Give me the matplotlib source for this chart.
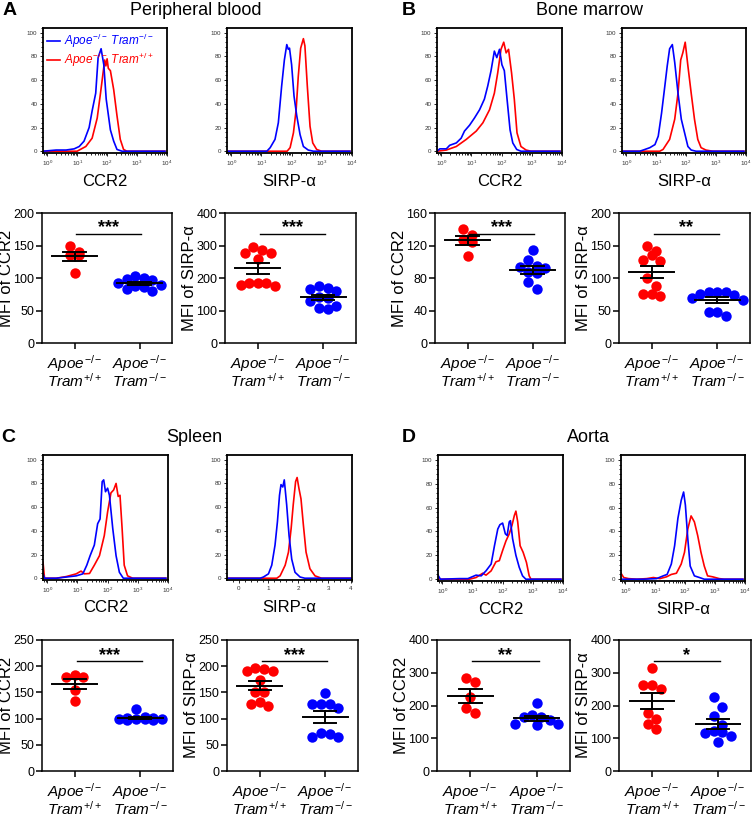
import numpy as np
import matplotlib
matplotlib.use('Agg')
import matplotlib.pyplot as plt
from matplotlib.ticker import MultipleLocator, FixedLocator

plt.rcParams['font.family'] = ['Liberation Sans', 'DejaVu Sans']
plt.rcParams['mathtext.fontset'] = 'custom'
plt.rcParams['mathtext.rm'] = 'Liberation Sans'
plt.rcParams['mathtext.it'] = 'Liberation Sans:italic'
plt.rcParams['mathtext.bf'] = 'Liberation Sans:bold'

# ---- histogramas (x en log10, y en % del maximo) ----
# ko = Apoe-/- Tram-/- (azul), wt = Apoe-/- Tram+/+ (rojo)
a_ccr2_ko_x = [-0.14, 0.3, 0.63, 0.9, 1.07, 1.23, 1.4, 1.5, 1.62, 1.70, 1.80, 1.89, 1.97, 2.11, 2.22, 2.33, 2.5, 3.93]
a_ccr2_ko_y = [0, 1, 1, 2, 4, 8.5, 20, 34, 49, 79, 86.5, 73, 44, 18, 8.5, 1.5, 0, 0]
a_ccr2_wt_x = [-0.14, 1.0, 1.07, 1.29, 1.5, 1.67, 1.78, 1.86, 1.92, 1.96, 2.0, 2.04, 2.11, 2.22, 2.33, 2.44, 2.55, 2.66, 3.93]
a_ccr2_wt_y = [0, 0, 1, 4, 11, 28, 49, 65, 77, 72, 78, 70, 68, 52, 30, 10, 1.5, 0, 0]
a_sirp_ko_x = [-0.14, 1.18, 1.29, 1.45, 1.56, 1.67, 1.76, 1.84, 1.89, 1.93, 2.0, 2.08, 2.17, 2.28, 2.39, 2.55, 2.72, 3.93]
a_sirp_ko_y = [0, 0, 3, 10, 24, 55, 77, 90, 86, 87, 73, 46.5, 30, 14, 4, 1, 0, 0]
a_sirp_wt_x = [-0.14, 1.85, 1.95, 2.06, 2.15, 2.22, 2.3, 2.39, 2.44, 2.52, 2.61, 2.7, 2.83, 2.99, 3.93]
a_sirp_wt_y = [0, 0, 3, 15.5, 35, 63, 87, 95, 89, 55, 21, 7, 1.5, 0, 0]

b_ccr2_ko_x = [-0.14, -0.05, 0.17, 0.28, 0.5, 0.66, 0.77, 0.94, 1.1, 1.27, 1.43, 1.54, 1.65, 1.76, 1.84, 1.93, 2.01, 2.09, 2.18, 2.28, 2.37, 2.5, 2.64, 3.93]
b_ccr2_ko_y = [0, 2, 2, 5, 7, 11, 17, 22, 28, 35, 44, 55, 68, 84.5, 79, 86, 73, 68, 44, 18, 7, 1.5, 0, 0]
b_ccr2_wt_x = [-0.14, 0.17, 0.5, 0.83, 1.16, 1.38, 1.6, 1.76, 1.87, 1.98, 2.07, 2.15, 2.23, 2.33, 2.42, 2.51, 2.64, 2.81, 2.97, 3.93]
b_ccr2_wt_y = [0, 1, 4, 10, 17, 24, 35, 49, 66, 86, 92, 83, 86, 66, 44, 15.5, 4, 1, 0, 0]
b_sirp_ko_x = [-0.14, 0.45, 0.57, 0.79, 0.96, 1.07, 1.18, 1.29, 1.37, 1.45, 1.54, 1.62, 1.73, 1.84, 1.95, 2.06, 2.17, 2.33, 3.93]
b_sirp_ko_y = [0, 0, 1, 3, 5.6, 12.7, 32, 55, 72, 86.5, 90, 75, 49, 27, 15.5, 4, 1, 0, 0]
b_sirp_wt_x = [-0.14, 1.12, 1.23, 1.45, 1.62, 1.73, 1.82, 1.89, 1.97, 2.06, 2.17, 2.28, 2.39, 2.5, 2.66, 2.88, 3.93]
b_sirp_wt_y = [0, 0, 1.5, 10, 27, 49, 77, 83, 92, 72, 49, 27, 10, 3, 1, 0, 0]

c_ccr2_ko_x = [-0.14, -0.09, 0.3, 0.63, 0.96, 1.18, 1.31, 1.42, 1.56, 1.67, 1.75, 1.82, 1.87, 1.93, 2.0, 2.06, 2.17, 2.28, 2.39, 2.52, 3.93]
c_ccr2_ko_y = [4, 0, 0, 1, 2, 3.7, 11, 19, 28, 46, 50, 81.5, 83, 73, 76, 70, 42, 19, 5, 0, 0]
c_ccr2_wt_x = [-0.14, -0.09, 0.3, 0.63, 0.96, 1.12, 1.23, 1.4, 1.56, 1.73, 1.89, 2.0, 2.11, 2.2, 2.28, 2.35, 2.41, 2.48, 2.55, 2.66, 2.83, 3.93]
c_ccr2_wt_y = [13.6, 0, 0, 1.4, 3.7, 6, 3.7, 4, 11, 19, 36, 56, 72, 74.5, 80, 69, 70, 42, 11, 2, 0, 0]
# en C, SIRP-a va en escala lineal 0-4
c_sirp_ko_x = [-0.39, 0.72, 0.83, 1.0, 1.11, 1.22, 1.3, 1.37, 1.42, 1.48, 1.53, 1.61, 1.69, 1.78, 1.89, 2.06, 2.22, 3.8]
c_sirp_ko_y = [0, 0, 1, 3.7, 11, 28, 47.6, 70, 79, 77, 83, 62, 36, 16, 5, 1, 0, 0]
c_sirp_wt_x = [-0.39, 1.28, 1.39, 1.56, 1.67, 1.76, 1.83, 1.91, 1.96, 2.02, 2.09, 2.17, 2.26, 2.39, 2.56, 2.78, 3.8]
c_sirp_wt_y = [0, 0, 2, 11, 22, 42, 62, 81.6, 85, 76, 67, 45, 22, 8, 2, 0, 0]

d_ccr2_ko_x = [-0.14, -0.06, 0.57, 0.85, 0.99, 1.12, 1.29, 1.45, 1.62, 1.73, 1.84, 1.91, 2.0, 2.09, 2.15, 2.22, 2.26, 2.33, 2.44, 2.55, 2.66, 2.77, 3.93]
d_ccr2_ko_y = [3.4, 0, 0.5, 0.5, 2, 3.4, 2.8, 7, 12.7, 28, 42, 45.6, 47, 38, 36.6, 48, 49, 34, 20, 10, 2.8, 0, 0]
d_ccr2_wt_x = [-0.14, 0.9, 1.12, 1.34, 1.45, 1.62, 1.78, 1.89, 2.0, 2.11, 2.22, 2.31, 2.39, 2.44, 2.5, 2.58, 2.68, 2.79, 2.88, 2.94, 3.93]
d_ccr2_wt_y = [0, 0, 1.4, 5, 3.4, 7, 14.6, 15.5, 24, 32, 38, 45, 53.5, 57, 48, 28, 22.5, 14, 2.8, 0, 0]
d_sirp_ko_x = [-0.14, 0.61, 1.05, 1.27, 1.4, 1.54, 1.65, 1.76, 1.87, 1.95, 2.01, 2.09, 2.17, 2.31, 2.48, 2.64, 3.93]
d_sirp_ko_y = [0, 0, 0.5, 2.8, 4, 12.7, 28, 51, 66, 73, 62, 34, 11, 2.8, 1.4, 0, 0]
d_sirp_wt_x = [-0.14, -0.05, 0.11, 0.39, 0.72, 0.94, 1.16, 1.38, 1.54, 1.71, 1.87, 1.98, 2.09, 2.2, 2.31, 2.42, 2.53, 2.64, 2.75, 2.92, 3.14, 3.3, 3.93]
d_sirp_wt_y = [5, 1.4, 0.5, 0, 0.5, 1.4, 0.5, 2, 4, 5, 12.7, 22.5, 42, 53, 48, 36.6, 22.5, 11, 2.8, 2, 0.5, 0, 0]

# ---- MFI por raton ----
a_ccr2_wt = [140, 135, 135, 150, 107]
a_ccr2_ko = [103, 100, 99, 97, 93, 90, 88, 86, 83, 80]
a_sirp_wt = [296, 286, 277, 277, 260, 184, 184, 184, 178, 176]
a_sirp_ko = [176, 168, 165, 160, 143, 140, 128, 114, 107, 105]
b_ccr2_wt = [140, 133, 127, 124, 107]
b_ccr2_ko = [114, 102, 95, 94, 92, 88, 86, 75, 66]
b_sirp_wt = [150, 142, 135, 127, 126, 100, 87, 76, 75, 72]
b_sirp_ko = [78, 78, 78, 76, 74, 70, 66, 48, 47, 42]
c_ccr2_wt = [184, 180, 179, 154, 133]
c_ccr2_ko = [118, 104, 101, 101, 100, 100, 99, 99, 98, 97]
c_sirp_wt = [197, 195, 190, 190, 173, 151, 151, 131, 128, 125]
c_sirp_ko = [149, 127, 127, 127, 120, 72, 70, 65, 64]
d_ccr2_wt = [283, 273, 225, 191, 176]
d_ccr2_ko = [207, 171, 164, 164, 155, 145, 145, 140]
d_sirp_wt = [316, 263, 263, 250, 178, 158, 145, 127]
d_sirp_ko = [225, 196, 168, 140, 123, 120, 117, 107, 90]

grupos = [r'$\mathit{Apoe}^{-/-}$' + '\n' + r'$\mathit{Tram}^{+/+}$',
          r'$\mathit{Apoe}^{-/-}$' + '\n' + r'$\mathit{Tram}^{-/-}$']
leyenda = [r'$\mathit{Apoe}^{-/-}\ \mathit{Tram}^{-/-}$', r'$\mathit{Apoe}^{-/-}\ \mathit{Tram}^{+/+}$']

W, H = 752, 816
fig = plt.figure(figsize=(W / 100, H / 100), dpi=100)


def eje(izq, arriba, der, abajo):
    # ejes colocados en pixeles del dibujo original
    return fig.add_axes([izq / W, 1 - abajo / H, (der - izq) / W, (abajo - arriba) / H])


def histograma(rect, ko_x, ko_y, wt_x, wt_y, nombre, lineal=False):
    ax = eje(*rect)
    ax.plot(wt_x, wt_y, color='#ff0000', lw=1.2)
    ax.plot(ko_x, ko_y, color='#0000ff', lw=1.2)
    ax.set_ylim(-1.5, 104)
    ax.set_yticks([0, 20, 40, 60, 80, 100])
    ax.yaxis.set_minor_locator(MultipleLocator(4))
    if lineal:
        ax.set_xlim(-0.39, 3.8)
        ax.set_xticks([0, 1, 2, 3, 3.75], ['0', '1', '2', '3', '4'])
        ax.xaxis.set_minor_locator(MultipleLocator(0.2))
    else:
        ax.set_xlim(-0.14, 4.0)
        ax.set_xticks(range(5), [r'$10^{%d}$' % d for d in range(5)])
        menores = [d + np.log10(k) for d in range(-1, 4) for k in range(2, 10)]
        ax.xaxis.set_minor_locator(FixedLocator([m for m in menores if m > -0.14]))
    ax.tick_params(which='both', labelsize=4.5, labelcolor='#333333', width=0.6, pad=1.5)
    ax.tick_params(which='major', length=2.5)
    ax.tick_params(which='minor', length=1.5)
    for s in ax.spines.values():
        s.set_linewidth(1.3)
    ax.text(0.5, -0.224, nombre, transform=ax.transAxes, ha='center', va='center', fontsize=12)
    return ax


def enjambre(vals, ymax, paso=0.13, umbral=0.075):
    # acomoda los puntos en filas como el grafico de Prism
    vals = np.asarray(vals, dtype=float)
    orden = np.argsort(-vals, kind='stable')
    filas = []
    for i in orden:
        if filas and vals[filas[-1][0]] - vals[i] < umbral * ymax:
            filas[-1].append(i)
        else:
            filas.append([i])
    xs = np.zeros(len(vals))
    for f in filas:
        n = len(f)
        offs = (np.arange(n) - (n - 1) / 2) * paso
        offs = offs[np.argsort(np.abs(offs) + 1e-6 * offs, kind='stable')]
        for j, i in enumerate(f):
            xs[i] = offs[j]
    return xs


def puntos(rect, wt, ko, ymax, paso, estrellas, nombre):
    ax = eje(*rect)
    for i, (vals, color) in enumerate([(wt, '#ff0000'), (ko, '#0000ff')]):
        xs = enjambre(vals, ymax) + i
        ax.plot(xs, vals, 'o', color=color, ms=7.5, mew=0, zorder=2)
        m = np.mean(vals)
        sem = np.std(vals, ddof=1) / np.sqrt(len(vals))
        ax.plot([i - 0.34, i + 0.34], [m, m], color='k', lw=1.4, zorder=3)
        ax.plot([i - 0.17, i + 0.17], [m + sem, m + sem], color='k', lw=1.4, zorder=3)
        ax.plot([i - 0.17, i + 0.17], [m - sem, m - sem], color='k', lw=1.4, zorder=3)
        ax.plot([i, i], [m - sem, m + sem], color='k', lw=1.4, zorder=3)
    ax.plot([0.03, 1.03], [0.84 * ymax, 0.84 * ymax], color='k', lw=1.0)
    ax.text(0.53, 0.85 * ymax, estrellas, ha='center', va='baseline', fontsize=13, fontweight='bold')
    ax.set_xlim(-0.5, 1.5)
    ax.set_ylim(0, ymax)
    ax.set_yticks(np.arange(0, ymax + 1, paso))
    ax.set_xticks([0, 1], grupos)
    for t in ax.get_xticklabels():
        t.set_linespacing(0.85)
    ax.tick_params(axis='y', labelsize=9, length=4, width=1.1, pad=1.5)
    ax.tick_params(axis='x', labelsize=11, length=4, width=1.1, pad=3)
    for s in ax.spines.values():
        s.set_linewidth(1.1)
    ax.text(-0.27, 0.5, nombre, transform=ax.transAxes, rotation=90, ha='center', va='center', fontsize=12)
    return ax


# panel A
h = histograma((43, 28, 167, 153), a_ccr2_ko_x, a_ccr2_ko_y, a_ccr2_wt_x, a_ccr2_wt_y, 'CCR2')
lineas = h.get_lines()
h.legend([lineas[1], lineas[0]], leyenda, loc='upper left', fontsize=8.5, frameon=False,
         handlelength=1.1, handletextpad=0.3, labelspacing=0.05, borderaxespad=0.15, borderpad=0.2,
         labelcolor='linecolor')
histograma((227, 28, 352, 153), a_sirp_ko_x, a_sirp_ko_y, a_sirp_wt_x, a_sirp_wt_y, 'SIRP-α')
puntos((42, 213, 172, 343), a_ccr2_wt, a_ccr2_ko, 200, 50, '***', 'MFI of CCR2')
puntos((225, 213, 356, 343), a_sirp_wt, a_sirp_ko, 400, 100, '***', 'MFI of SIRP-α')

# panel B
histograma((437, 28, 562, 153), b_ccr2_ko_x, b_ccr2_ko_y, b_ccr2_wt_x, b_ccr2_wt_y, 'CCR2')
histograma((622, 28, 746, 153), b_sirp_ko_x, b_sirp_ko_y, b_sirp_wt_x, b_sirp_wt_y, 'SIRP-α')
puntos((435, 213, 565, 343), b_ccr2_wt, b_ccr2_ko, 160, 40, '***', 'MFI of CCR2')
puntos((619, 213, 750, 343), b_sirp_wt, b_sirp_ko, 200, 50, '**', 'MFI of SIRP-α')

# panel C
histograma((43, 455, 168, 580), c_ccr2_ko_x, c_ccr2_ko_y, c_ccr2_wt_x, c_ccr2_wt_y, 'CCR2')
histograma((227, 455, 352, 580), c_sirp_ko_x, c_sirp_ko_y, c_sirp_wt_x, c_sirp_wt_y, 'SIRP-α', lineal=True)
puntos((42, 640, 173, 771), c_ccr2_wt, c_ccr2_ko, 250, 50, '***', 'MFI of CCR2')
puntos((227, 640, 358, 771), c_sirp_wt, c_sirp_ko, 250, 50, '***', 'MFI of SIRP-α')

# panel D
histograma((438, 455, 563, 581), d_ccr2_ko_x, d_ccr2_ko_y, d_ccr2_wt_x, d_ccr2_wt_y, 'CCR2')
histograma((621, 455, 745, 581), d_sirp_ko_x, d_sirp_ko_y, d_sirp_wt_x, d_sirp_wt_y, 'SIRP-α')
puntos((437, 640, 570, 771), d_ccr2_wt, d_ccr2_ko, 400, 100, '**', 'MFI of CCR2')
puntos((619, 640, 751, 771), d_sirp_wt, d_sirp_ko, 400, 100, '*', 'MFI of SIRP-α')

# letras y titulos
for letra, x, y in [('A', 3, 15), ('B', 402, 15), ('C', 1, 442), ('D', 402, 442)]:
    fig.text(x / W, 1 - y / H, letra, fontsize=14, fontweight='bold', va='baseline')
for titulo, x, y in [('Peripheral blood', 196, 15), ('Bone marrow', 590, 15), ('Spleen', 194, 442), ('Aorta', 588, 442)]:
    fig.text(x / W, 1 - y / H, titulo, fontsize=13, ha='center', va='baseline')

fig.savefig('out.png', dpi=100)
